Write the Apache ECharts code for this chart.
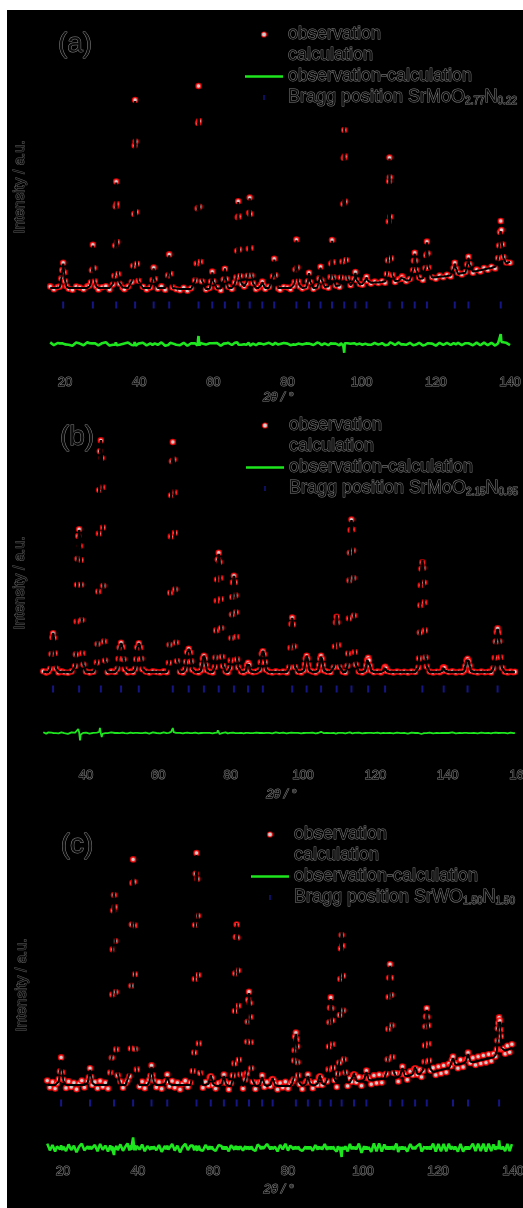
<!DOCTYPE html>
<html><head><meta charset="utf-8">
<script src="https://cdn.jsdelivr.net/npm/echarts@6/dist/echarts.min.js"></script>
<style>
html,body{margin:0;padding:0;background:#fff;}
#chart{position:absolute;left:7px;top:10px;width:516px;height:1198px;background:#000;}
</style></head><body><div id="chart"></div>
<script>
// Rietveld refinement profiles: [2θ (deg), observed, calculated] in arbitrary units
const profileA = [
[16,58,50],[17,44,50],[18,55,50],
[18.6,57,54],[19.0,98,100],[19.25,140,136],[19.5,176,172],[19.75,128,132],[20.0,84,86],[20.4,59,56],
[21,46,50],[22,41,50],[23,57,50],[24,52,50],[25,44,50],[26,59,50],
[26.6,62,58],[27.0,79,76],[27.25,139,136],[27.5,266,262],[27.75,150,147],[28.0,84,80],[28.4,57,60],
[29,43,50],[30,54,50],[31,59,50],[32,42,50],
[32.9,67,71],[33.3,111,114],[33.55,262,265],[33.68,458,450],[33.8,582,578],[33.92,470,476],[34.05,280,288],[34.3,120,124],[34.7,71,75],
[35.5,52,52],[36,44,50],[37,57,50],
[38.0,80,85],[38.4,161,158],[38.65,420,426],[38.78,762,752],[38.9,990,985],[39.02,782,790],[39.15,430,440],[39.4,171,172],[39.8,86,84],
[41,56,50],[42,43,50],[43,53,50],
[43.6,90,94],[43.9,152,148],[44.2,95,92],
[45,46,50],[46,58,50],[47,41,50],
[47.8,113,118],[48.1,218,214],[48.4,121,115],
[49,53,50],[50,44,48],[51,39,45],[52,51,45],[53,36,45],[54,49,45],
[55.1,88,85],[55.5,172,166],[55.75,448,455],[55.88,875,852],[56.0,1060,1020],[56.12,885,870],[56.25,456,464],[56.5,181,176],[56.9,84,88],
[58,42,45],[59,50,46],
[59.4,82,84],[59.7,132,128],[60.0,84,80],
[61,52,47],[62,39,48],
[62.8,92,90],[63.1,146,148],[63.4,95,92],
[64,56,50],[65,45,50],
[65.8,78,72],[66.2,104,102],[66.45,236,228],[66.58,404,395],[66.7,484,480],[66.82,408,412],[66.95,242,248],[67.2,110,108],[67.6,70,74],
[68.3,57,58],
[68.9,72,76],[69.3,111,108],[69.55,246,240],[69.68,426,416],[69.8,502,498],[69.92,420,428],[70.05,250,256],[70.3,112,110],[70.7,74,72],
[71.5,44,50],[72.2,53,50],
[72.9,68,66],[73.2,82,80],[73.5,64,66],
[74,45,50],[75,56,50],
[76.1,108,112],[76.4,196,192],[76.7,114,108],
[77.5,47,50],[78,41,50],[79,55,50],[80,52,50],[80.8,44,50],
[81.5,60,62],[81.9,80,78],[82.15,142,146],[82.4,292,288],[82.65,152,150],[82.9,82,80],[83.3,58,62],
[84,47,50],[85,55,52],
[85.5,84,82],[85.8,126,124],[86.1,80,83],
[87,45,50],[88,58,51],
[88.6,98,94],[88.9,156,152],[89.2,88,93],
[90,58,55],[91,51,57],
[91.6,105,102],[91.8,172,176],[92.0,290,286],[92.2,180,178],[92.4,104,106],
[93,62,60],[94,55,62],
[94.4,102,98],[94.8,182,186],[95.05,470,480],[95.18,700,716],[95.3,840,884],[95.42,708,704],[95.55,482,476],[95.8,190,185],[96.2,100,96],
[97,64,63],
[98.0,96,92],[98.3,130,126],[98.6,90,92],
[99.5,70,68],[100.2,66,70],
[101.0,92,90],[101.3,106,103],[101.6,85,88],
[102.5,72,76],[103.5,82,77],[104.5,75,78],[105.5,84,80],[106.3,76,82],
[106.8,120,116],[107.1,188,192],[107.3,382,392],[107.42,584,592],[107.5,702,698],[107.58,604,598],[107.7,406,398],[107.9,198,196],[108.3,115,112],
[109,80,85],[110,94,86],
[110.6,98,100],[110.9,108,104],[111.2,96,98],
[112,84,88],[113,95,89],
[113.9,140,146],[114.1,186,182],[114.3,226,222],[114.5,186,190],[114.7,140,142],
[115.5,102,96],[116.5,90,97],
[117.2,150,154],[117.4,214,220],[117.6,282,278],[117.8,224,220],[118.0,152,156],
[119,104,102],[120,96,104],[121,112,106],[122,104,108],[123,116,110],[124,108,113],
[124.8,150,146],[125.1,176,172],[125.4,148,150],
[126,126,120],[127,118,124],[128,130,126],
[128.5,168,172],[128.8,206,202],[129.1,170,166],
[130,126,132],[131,142,135],[132,133,139],[133,150,143],[134,141,147],[135,156,150],[136,148,156],
[136.8,200,196],[137.1,262,256],[137.3,330,320],[137.5,385,335],[137.7,340,330],[137.9,268,258],[138.2,205,200],
[139,178,172],[140,176,182]
];

const profileB = [
[28.2,54,50],[29,47,50],[29.6,53,50],
[30.1,66,66],[30.45,140,138],[30.7,224,222],[30.9,244,245],[31.1,221,222],[31.35,144,142],[31.7,67,68],
[32.4,48,50],[33.2,53,50],[34,49,50],[35,46,50],[36,53,50],
[37.0,80,78],[37.2,138,135],[37.4,302,299],[37.55,486,476],[37.65,616,604],[37.85,730,710],[38.1,764,760],[38.35,680,717],[38.55,610,618],[38.65,486,490],[38.8,310,313],[39.0,144,142],[39.3,87,86],
[40,52,50],[41,47,50],[42,51,50],
[43.0,98,96],[43.2,190,189],[43.4,452,456],[43.55,742,746],[43.65,960,955],[43.85,1154,1129],[44.1,1208,1210],[44.35,1120,1140],[44.55,974,978],[44.65,772,769],[44.8,481,479],[45.0,203,201],[45.3,107,108],
[46,49,50],[47,53,50],[48,50,50],
[48.7,66,65],[49.0,116,115],[49.3,172,173],[49.7,196,195],[50.1,175,173],[50.4,114,115],[50.7,64,65],
[51.5,48,50],[52.3,52,50],[53.0,49,50],
[53.6,66,65],[53.9,114,115],[54.2,174,173],[54.6,194,195],[55.0,172,173],[55.3,116,115],[55.6,64,65],
[56.5,52,50],[57.5,47,50],[58.5,53,50],[59.5,50,50],[60.5,48,50],[61.5,53,50],[62.3,49,50],
[62.9,96,95],[63.1,186,185],[63.3,446,444],[63.45,728,725],[63.55,934,928],[63.75,1104,1096],[64.0,1200,1175],[64.25,1112,1108],[64.45,948,950],[64.55,746,748],[64.7,464,466],[64.9,197,196],[65.2,105,106],
[66,51,50],[66.8,48,50],
[67.4,63,62],[67.7,101,102],[68.0,150,148],[68.4,166,165],[68.8,147,148],[69.1,103,102],[69.4,61,62],
[70.2,52,50],[71.1,48,50],
[71.8,58,58],[72.1,87,86],[72.3,117,118],[72.6,131,130],[72.9,118,118],[73.1,85,86],[73.4,59,58],
[74.2,51,50],[75,48,50],
[75.6,75,74],[75.8,122,121],[76.0,258,257],[76.15,406,404],[76.25,512,510],[76.45,612,599],[76.7,646,640],[76.95,600,605],[77.15,520,522],[77.25,415,416],[77.4,270,268],[77.6,126,127],[77.9,80,80],
[78.6,53,50],[79.2,48,50],
[79.8,70,69],[80.0,108,108],[80.2,220,218],[80.35,337,338],[80.45,425,424],[80.65,498,496],[80.9,531,530],[81.15,499,501],[81.35,433,434],[81.45,349,348],[81.6,226,228],[81.8,113,112],[82.1,73,74],
[82.9,51,50],[83.6,48,50],
[84.2,56,55],[84.5,84,85],[84.8,96,95],[85.1,86,85],[85.4,54,55],
[86.2,49,50],[87.1,52,50],
[88.0,60,60],[88.3,99,98],[88.6,141,140],[88.9,154,155],[89.2,139,140],[89.5,99,98],[89.8,61,60],
[90.6,51,50],[91.5,48,50],[92.5,53,50],[93.5,49,50],[94.5,52,50],[95.5,48,50],
[96.2,73,72],[96.55,171,172],[96.8,290,288],[97.0,322,320],[97.2,287,288],[97.45,178,177],[97.8,75,74],
[98.6,51,50],[99.5,48,50],
[100.2,58,58],[100.5,87,86],[100.75,117,118],[101.0,131,130],[101.25,118,118],[101.5,85,86],[101.8,59,58],
[102.6,52,50],[103.5,48,50],
[104.2,58,58],[104.5,85,84],[104.75,118,114],[105.0,131,125],[105.25,116,114],[105.5,84,84],[105.8,57,58],
[106.6,51,50],[107.6,49,50],
[108.5,74,73],[108.85,177,178],[109.1,298,301],[109.3,326,335],[109.5,298,301],[109.75,185,184],[110.1,75,76],
[111,51,50],[111.7,48,50],
[112.3,81,80],[112.5,142,141],[112.7,318,316],[112.85,508,506],[112.95,646,643],[113.15,760,757],[113.4,812,810],[113.65,762,764],[113.85,657,658],[113.95,520,521],[114.1,332,331],[114.3,150,149],[114.6,87,88],
[115.4,52,50],[116.4,48,50],
[117.2,57,57],[117.5,83,82],[117.75,110,110],[118.0,121,120],[118.25,109,110],[118.5,81,82],[118.8,58,57],
[119.6,49,50],[120.6,52,50],[121.5,48,50],
[122.2,56,55],[122.5,70,70],[122.7,76,75],[122.9,69,70],[123.2,55,55],
[124,51,50],[125,48,50],[126,52,50],[127,49,50],[128,51,50],[129,47,50],[130,52,50],[131,50,50],
[131.9,72,72],[132.1,118,117],[132.3,247,246],[132.45,384,386],[132.55,484,487],[132.75,566,571],[133.0,598,610],[133.25,570,576],[133.45,497,498],[133.55,398,397],[133.7,258,257],[133.9,123,123],[134.2,77,78],
[135,52,50],[136,48,50],[137,51,50],[137.8,49,50],
[138.4,55,55],[138.7,71,70],[138.9,74,75],[139.1,70,70],[139.4,56,55],
[140.3,50,50],[141.3,53,50],[142.3,48,50],[143.3,51,50],[144,49,50],
[144.6,57,56],[144.9,80,80],[145.2,107,106],[145.5,116,115],[145.8,105,106],[146.1,81,80],[146.4,55,56],
[147.3,51,50],[148.3,48,50],[149.3,52,50],[150.3,49,50],[151.3,51,50],[152,48,50],
[152.6,68,67],[153.0,121,120],[153.3,202,200],[153.55,250,245],[153.8,268,265],[154.05,247,247],[154.3,204,205],[154.6,124,125],[155.0,71,70],
[155.8,51,50],[156.6,48,50],[157.4,52,50],[158.2,49,50],[158.6,51,50]
];

const profileC = [
[15.8,62,40],[16.5,28,40],[17.2,55,40],[17.9,22,40],[18.4,48,40],
[18.9,70,59],[19.2,108,115],[19.5,178,165],[19.8,104,115],[20.1,66,59],
[20.8,25,40],[21.5,58,40],[22.2,30,40],[22.9,51,40],[23.6,19,40],[24.3,47,40],[25,62,40],[25.7,28,40],
[26.6,60,51],[26.9,78,85],[27.2,124,115],[27.5,80,85],[27.8,40,51],
[28.5,55,40],[29.2,24,40],[29.9,60,40],[30.6,31,40],[31.3,52,40],[32,22,40],
[32.6,102,89],[33.0,176,188],[33.15,492,483],[33.25,718,730],[33.4,912,927],[33.6,990,1025],[33.8,930,927],[33.95,760,749],[34.05,505,513],[34.2,218,207],[34.6,88,99],
[35.3,58,40],[36,26,40],[36.7,49,40],[37.2,63,40],
[37.7,84,96],[38.1,222,209],[38.25,536,546],[38.35,842,828],[38.5,1050,1040],[38.7,1168,1115],[38.9,1056,1040],[39.05,838,850],[39.15,594,580],[39.3,220,231],[39.7,118,108],
[40.4,32,40],[41.1,57,40],[41.8,24,40],[42.5,50,40],
[43.0,66,54],[43.3,86,94],[43.6,138,130],[43.9,88,94],[44.2,62,54],
[44.9,29,40],[45.6,55,40],[46.3,21,40],
[47.2,56,46],[47.5,58,64],[47.8,92,80],[48.1,56,64],[48.4,34,46],
[49.1,60,40],[49.8,27,40],[50.5,52,40],[51.2,18,40],[51.9,46,40],[52.6,61,40],[53.3,30,40],[54.0,52,40],
[54.6,110,98],[55.0,202,214],[55.15,570,562],[55.25,840,852],[55.4,1096,1084],[55.6,1200,1190],[55.8,1070,1084],[55.95,886,875],[56.05,590,597],[56.2,248,237],[56.6,100,110],
[57.3,26,40],[58,55,40],
[58.8,38,46],[59.1,78,69],[59.4,84,90],[59.7,76,69],[60.0,40,46],
[60.7,22,36],[61.5,50,35],
[62.3,52,43],[62.6,58,65],[62.9,92,85],[63.2,58,65],[63.5,50,43],
[64.2,18,35],[64.8,49,35],
[65.3,88,76],[65.7,148,157],[65.85,410,402],[65.95,598,606],[66.1,780,769],[66.3,842,850],[66.5,776,769],[66.65,612,622],[66.75,436,426],[66.9,166,174],[67.3,92,84],
[68.0,22,35],
[68.6,68,59],[69.0,98,106],[69.15,256,247],[69.25,356,364],[69.4,466,458],[69.6,506,500],[69.8,450,458],[69.95,380,373],[70.05,254,261],[70.2,124,115],[70.6,56,63],
[71.3,20,35],[71.9,52,35],
[72.5,50,42],[72.8,56,62],[73.1,88,80],[73.4,58,62],[73.7,30,42],
[74.4,55,35],
[75.3,34,41],[75.6,66,59],[75.9,70,75],[76.2,64,59],[76.5,48,41],
[77.2,18,35],[77.9,50,35],[78.6,28,35],[79.3,56,35],[80,22,35],[80.6,47,35],
[81.1,56,48],[81.5,68,75],[81.65,162,154],[81.75,214,221],[81.9,282,274],[82.1,302,296],[82.3,268,274],[82.45,232,226],[82.55,154,162],[82.7,88,80],[83.1,44,51],
[83.8,20,35],
[84.7,52,45],[85.0,60,66],[85.3,92,85],[85.6,60,66],[85.9,52,45],
[86.6,24,38],[87.3,55,40],
[87.9,40,48],[88.2,78,70],[88.5,84,90],[88.8,76,70],[89.1,40,48],
[89.8,62,42],
[90.4,58,67],[90.8,118,110],[90.95,232,239],[91.05,354,346],[91.2,426,432],[91.4,478,470],[91.6,424,432],[91.75,362,355],[91.85,244,251],[92.0,126,118],[92.4,64,71],
[93.0,30,48],
[93.3,96,87],[93.7,152,161],[93.85,390,383],[93.95,570,578],[94.1,722,730],[94.3,790,835],[94.5,736,730],[94.65,586,593],[94.75,412,405],[94.9,168,176],[95.3,102,94],
[95.9,35,52],[96.5,74,54],
[97.0,56,62],[97.3,90,82],[97.6,94,100],[97.9,88,82],[98.2,54,62],
[98.9,80,58],[99.6,36,60],
[100.3,76,67],[100.6,80,87],[100.9,112,105],[101.2,80,87],[101.5,72,67],
[102.2,44,63],[102.9,88,65],[103.6,50,67],[104.3,92,69],[105,52,70],[105.7,90,72],
[106.2,96,103],[106.6,168,160],[106.75,320,329],[106.85,480,471],[107.0,576,584],[107.2,644,636],[107.4,576,584],[107.55,490,482],[107.65,338,346],[107.8,180,171],[108.2,100,109],
[108.9,98,76],[109.4,58,78],
[109.9,94,87],[110.2,100,107],[110.5,132,125],[110.8,100,107],[111.1,92,87],
[111.8,66,84],[112.6,108,88],
[113.3,90,96],[113.6,120,114],[113.9,124,130],[114.2,120,114],[114.5,92,96],
[115.2,116,95],[115.6,80,98],
[116.0,110,116],[116.4,156,148],[116.55,238,244],[116.65,332,324],[116.8,382,388],[117.0,424,416],[117.2,380,388],[117.35,338,330],[117.45,246,254],[117.6,162,154],[118.0,112,119],
[118.7,126,104],[119.4,90,108],[120.1,132,112],[120.8,98,115],[121.5,138,118],[122.2,104,121],[122.9,146,124],
[123.4,134,141],[123.7,166,159],[124.0,182,175],[124.3,152,159],[124.6,148,141],
[125.3,124,142],[126,166,145],[126.7,130,148],
[127.4,164,157],[127.7,170,177],[128.0,202,195],[128.3,170,177],[128.6,150,157],
[129.3,176,154],[130,140,156],[130.7,182,160],[131.4,148,163],[132.1,188,166],[132.8,152,170],[133.5,194,172],[134.2,160,176],[134.8,196,178],
[135.3,182,190],[135.7,218,210],[135.85,262,268],[135.95,322,316],[136.1,350,355],[136.3,378,340],[136.5,362,357],[136.65,316,322],[136.75,284,278],[136.9,218,225],[137.3,222,215],
[137.9,196,212],[138.5,236,216],[139.1,204,220],[139.7,244,225]
];

// Bragg reflection positions (2θ, deg)
const braggA = [19.5,27.5,33.8,38.9,43.9,48.1,56.0,59.7,63.1,66.7,69.8,73.2,76.4,82.4,85.8,88.9,92.0,95.3,98.3,101.3,107.5,110.9,114.3,117.6,125.1,128.8,137.5];
const braggB = [30.9,38.1,44.1,49.7,54.6,64.0,68.4,72.6,76.7,80.9,84.8,88.9,97.0,101.0,105.0,109.3,113.4,118.0,122.7,133.0,138.9,145.5,153.8];
const braggC = [19.5,27.2,33.6,38.7,43.6,47.8,55.6,59.4,62.9,66.3,69.6,73.1,75.9,82.1,85.3,88.5,91.4,94.3,97.6,100.9,107.2,110.5,113.9,117.0,124.0,128.0,136.3];

// Tick labels of the 2θ axes
const xTicksA = [20,40,60,80,100,120,140];
const xTicksB = [40,60,80,100,120,140,160];
const xTicksC = [20,40,60,80,100,120,140];

// Phase names for the Bragg markers (subscripts marked for rich text)
const phaseA = ['SrMoO', '2.77', 'N', '0.22'];
const phaseB = ['SrMoO', '2.15', 'N', '0.85'];
const phaseC = ['SrWO', '1.50', 'N', '1.50'];
const panelLetters = ['(a)', '(b)', '(c)'];

const FONT = '"Liberation Sans", Arial, sans-serif';
const ink = { color: '#0c0c0c', textBorderColor: '#808080', textBorderWidth: 1, fontFamily: FONT };
const tickIcon = 'path://M0,0h2v7h-2z';
const lineIcon = 'path://M0,0h38v2.4h-38z';

function braggName(p) { return 'Bragg position ' + p[0] + p[1] + p[2] + p[3]; }
const richNames = {};
[phaseA, phaseB, phaseC].forEach(p => {
  richNames[braggName(p)] = 'Bragg position ' + p[0] + '{s|' + p[1] + '}' + p[2] + '{s|' + p[3] + '}';
});

const panels = [
  { profile: profileA, bragg: braggA, phase: phaseA, ticks: xTicksA, xMin: 15, xMax: 140,
    yMin: -350, yMax: 1100, diffOffset: -230, braggLevel: -35, calcWidth: 2, diffWidth: 2.6,
    grid: { left: 39.5, right: 13, top: 68, height: 290 }, labelMargin: 8, nameGap: 19,
    legend: { left: 238, top: 15 }, letter: [68, 34], yName: [13, 177] },
  { profile: profileB, bragg: braggB, phase: phaseB, ticks: xTicksB, xMin: 28, xMax: 160,
    yMin: -350, yMax: 1250, diffOffset: -255, braggLevel: -35, calcWidth: 2.4, diffWidth: 1.8,
    grid: { left: 35.6, right: 3, top: 422, height: 320 }, labelMargin: 17, nameGap: 36,
    legend: { left: 239, top: 406 }, letter: [70, 427], yName: [13, 573] },
  { profile: profileC, bragg: braggC, phase: phaseC, ticks: xTicksC, xMin: 15, xMax: 140,
    yMin: -350, yMax: 1250, diffOffset: -275, braggLevel: -50, calcWidth: 2, diffWidth: 2.6,
    grid: { left: 37.25, right: 10, top: 833, height: 320 }, labelMargin: 2, nameGap: 20,
    legend: { left: 244, top: 815 }, letter: [70, 835], yName: [15, 975] }
];

const option = {
  backgroundColor: '#000',
  animation: false,
  grid: [], xAxis: [], yAxis: [], series: [], legend: [], graphic: []
};

panels.forEach((p, i) => {
  option.grid.push(Object.assign({ outerBoundsMode: 'none', containLabel: false }, p.grid));
  option.xAxis.push({
    type: 'value', gridIndex: i, min: p.xMin, max: p.xMax,
    axisLine: { show: false }, axisTick: { show: false }, splitLine: { show: false },
    axisLabel: Object.assign({ customValues: p.ticks, margin: p.labelMargin, fontSize: 13 }, ink),
    name: '2θ / °', nameLocation: 'middle', nameGap: p.nameGap,
    nameTextStyle: Object.assign({ fontSize: 13, fontStyle: 'italic' }, ink)
  });
  option.yAxis.push({ type: 'value', gridIndex: i, min: p.yMin, max: p.yMax, show: false });

  const bName = braggName(p.phase);
  option.series.push(
    {
      name: 'observation', type: 'scatter', xAxisIndex: i, yAxisIndex: i, z: 2,
      symbol: 'circle', symbolSize: 5,
      itemStyle: { color: '#ffffff', borderColor: '#ff0000', borderWidth: 1.6 },
      data: p.profile.map(r => [r[0], r[1]])
    },
    {
      name: 'calculation', type: 'line', xAxisIndex: i, yAxisIndex: i, z: 3,
      symbol: 'none', showSymbol: false,
      lineStyle: { color: '#000000', width: p.calcWidth }, itemStyle: { color: '#000000' },
      data: p.profile.map(r => [r[0], r[2]])
    },
    {
      name: 'observation-calculation', type: 'line', xAxisIndex: i, yAxisIndex: i, z: 3,
      symbol: 'none', showSymbol: false,
      lineStyle: { color: '#1ee61e', width: p.diffWidth }, itemStyle: { color: '#1ee61e' },
      data: p.profile.map(r => [r[0], r[1] - r[2] + p.diffOffset])
    },
    {
      name: bName, type: 'scatter', xAxisIndex: i, yAxisIndex: i, z: 3,
      symbol: 'rect', symbolSize: [2, 7],
      itemStyle: { color: '#1a1aa8' },
      data: p.bragg.map(x => [x, p.braggLevel])
    }
  );

  option.legend.push({
    orient: 'vertical', left: p.legend.left, top: p.legend.top, padding: 0,
    itemWidth: 38, itemHeight: 5, itemGap: 2, selectedMode: false,
    formatter: n => richNames[n] || n,
    textStyle: Object.assign({
      fontSize: 18, lineHeight: 18,
      rich: { s: Object.assign({ fontSize: 10, lineHeight: 4, verticalAlign: 'bottom' }, ink) }
    }, ink),
    data: [
      { name: 'observation', icon: 'circle', itemStyle: { color: '#ffffff', borderColor: '#ff0000', borderWidth: 1.2 } },
      { name: 'calculation', icon: lineIcon },
      { name: 'observation-calculation', icon: lineIcon },
      { name: bName, icon: tickIcon }
    ]
  });

  option.graphic.push(
    {
      type: 'text', x: p.letter[0], y: p.letter[1], silent: true,
      style: { text: panelLetters[i], font: '28px ' + FONT, fill: '#0c0c0c', stroke: '#858585', lineWidth: 1,
               align: 'center', verticalAlign: 'middle' }
    },
    {
      type: 'text', x: p.yName[0], y: p.yName[1], rotation: Math.PI / 2, silent: true,
      style: { text: 'Intensity / a.u.', font: '15px ' + FONT, fill: '#0c0c0c', stroke: '#5e5e5e', lineWidth: 1,
               align: 'center', verticalAlign: 'middle' }
    }
  );
});

const chart = echarts.init(document.getElementById('chart'), null, { renderer: 'canvas' });
chart.setOption(option);
</script></body></html>
